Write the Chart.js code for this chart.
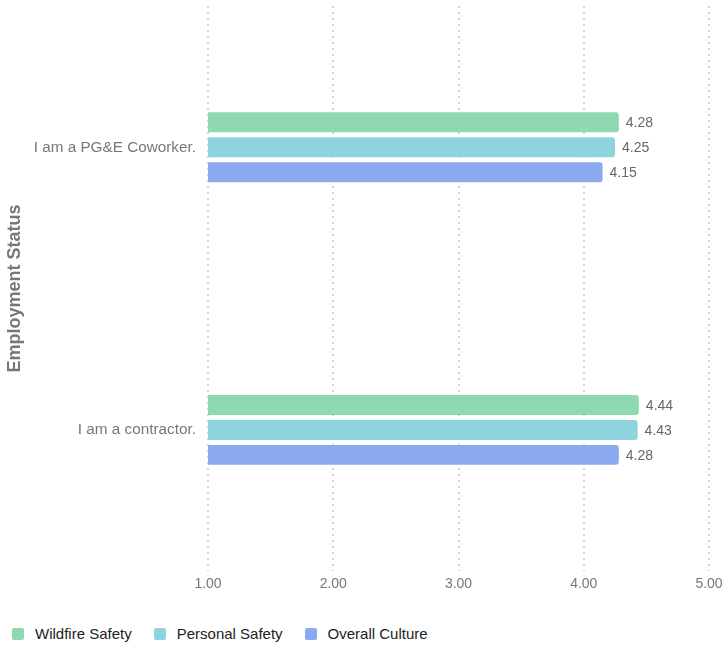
<!DOCTYPE html>
<html>
<head>
<meta charset="utf-8">
<script src="https://cdn.jsdelivr.net/npm/chart.js@4.4.1/dist/chart.umd.min.js"></script>
<style>
  html, body { margin: 0; padding: 0; background: #ffffff; }
  #wrap { width: 725px; height: 645px; position: relative; font-family: 'Liberation Sans', Arial, sans-serif; }
  #plot { position: absolute; left: 0; top: 0; width: 725px; height: 600px; }
  #legend { position: absolute; left: 12px; top: 624px; display: flex; align-items: center; }
  #legend .item { display: flex; align-items: center; margin-right: 22px; font-size: 15px; color: #222222; line-height: 20px; }
  #legend .box { width: 12px; height: 12px; border-radius: 2px; margin-right: 11px; }
</style>
</head>
<body>
<div id="wrap">
  <div id="plot"><canvas id="chart"></canvas></div>
  <div id="legend"></div>
</div>
<script>
// Survey scores by employment status
const categories = ["I am a PG&E Coworker.", "I am a contractor."];
const seriesNames = ["Wildfire Safety", "Personal Safety", "Overall Culture"];
const wildfireSafety = [4.28, 4.44];
const personalSafety = [4.25, 4.43];
const overallCulture = [4.15, 4.28];
const xTicks = [1, 2, 3, 4, 5];
const axisTitle = "Employment Status";

const colors = ["#8fd9b0", "#8ed3de", "#8aa9ef"];
const seriesValues = [wildfireSafety, personalSafety, overallCulture];
const FONT = "'Liberation Sans', Arial, sans-serif";

// Writes each bar's value just past its end
const valueLabels = {
  id: "valueLabels",
  afterDatasetsDraw(chart) {
    const ctx = chart.ctx;
    ctx.save();
    ctx.font = "14px " + FONT;
    ctx.fillStyle = "#666666";
    ctx.textAlign = "left";
    ctx.textBaseline = "middle";
    chart.data.datasets.forEach((ds, i) => {
      const meta = chart.getDatasetMeta(i);
      meta.data.forEach((bar, j) => {
        ctx.fillText(ds.data[j].toFixed(2), bar.x + 7, bar.y + 1);
      });
    });
    ctx.restore();
  }
};

// Builds the legend below the canvas from the chart's datasets
const htmlLegend = {
  id: "htmlLegend",
  afterUpdate(chart) {
    const host = document.getElementById("legend");
    host.innerHTML = "";
    chart.data.datasets.forEach(ds => {
      const item = document.createElement("div");
      item.className = "item";
      const box = document.createElement("span");
      box.className = "box";
      box.style.background = ds.backgroundColor;
      const text = document.createElement("span");
      text.textContent = ds.label;
      item.appendChild(box);
      item.appendChild(text);
      host.appendChild(item);
    });
  }
};

new Chart(document.getElementById("chart"), {
  type: "bar",
  data: {
    labels: categories,
    datasets: seriesNames.map((name, i) => ({
      label: name,
      data: seriesValues[i],
      backgroundColor: colors[i],
      borderRadius: 3,
      borderSkipped: false,
      categoryPercentage: 0.265,
      barPercentage: 0.8
    }))
  },
  options: {
    indexAxis: "y",
    responsive: true,
    maintainAspectRatio: false,
    animation: false,
    layout: { padding: { top: 6, right: 16, left: 0, bottom: 2 } },
    scales: {
      x: {
        min: 1,
        max: 5,
        afterBuildTicks(axis) { axis.ticks = xTicks.map(v => ({ value: v })); },
        afterFit(axis) { axis.paddingLeft = 0; axis.paddingRight = 0; },
        grid: {
          color: "#d4d4d4",
          lineWidth: 2,
          drawTicks: false
        },
        border: { display: false, dash: [2, 4] },
        ticks: {
          padding: 5,
          color: "#777777",
          font: { size: 14, family: FONT },
          callback: v => Number(v).toFixed(2)
        }
      },
      y: {
        afterFit(axis) { axis.width = 208; axis.paddingTop = 0; axis.paddingBottom = 0; },
        grid: { display: false, drawTicks: false },
        border: { display: false },
        ticks: {
          padding: 12,
          color: "#777777",
          font: { size: 15.3, family: FONT }
        },
        title: {
          display: true,
          text: axisTitle,
          color: "#777777",
          font: { size: 18, weight: "bold", family: FONT },
          padding: { top: 4, bottom: 8 }
        }
      }
    },
    plugins: {
      legend: { display: false },
      tooltip: { enabled: false }
    }
  },
  plugins: [valueLabels, htmlLegend]
});
</script>
</body>
</html>
